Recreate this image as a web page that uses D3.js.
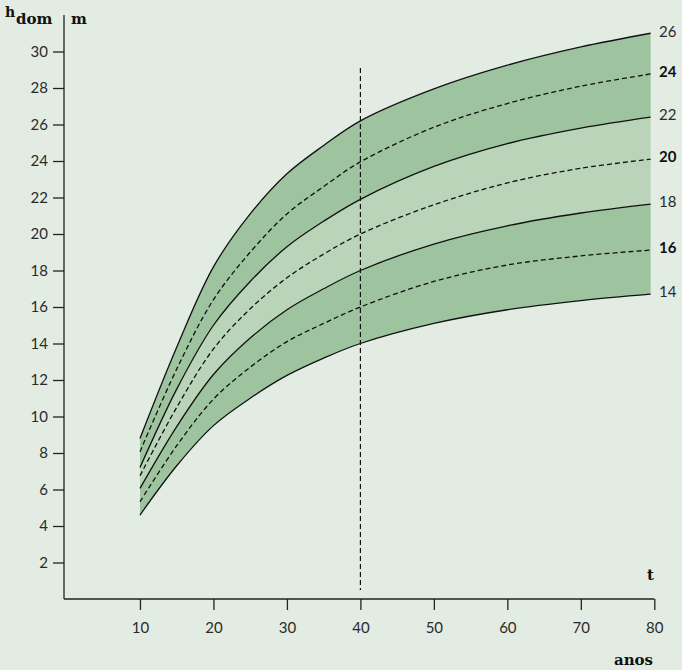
<!DOCTYPE html>
<html>
<head>
<meta charset="utf-8">
<script src="https://cdn.jsdelivr.net/npm/d3@7"></script>
<style>
  body { margin: 0; background: #e3ece3; }
  svg { display: block; }
  .axis text { font-family: Lato, sans-serif; font-size: 15px; fill: #2a2a2a; }
  .axis line { stroke: #222; stroke-width: 1.3; }
  .lbl { font-family: "DejaVu Serif", serif; font-weight: bold; fill: #111; }
  .endlbl { font-family: Lato, sans-serif; font-size: 15px; fill: #2a2a2a; }
</style>
</head>
<body>
<script>
// ages (years) and dominant height (m) for each site-index curve
var ages = [10, 15, 20, 25, 30, 35, 40, 50, 60, 70, 79.5];
var h14 = [4.6, 7.3, 9.5, 11.0, 12.25, 13.2, 14.0, 15.1, 15.85, 16.35, 16.7];
var h16 = [5.33, 8.4, 10.95, 12.7, 14.1, 15.1, 16.0, 17.4, 18.3, 18.8, 19.12];
var h18 = [6.06, 9.45, 12.3, 14.3, 15.85, 17.0, 18.0, 19.45, 20.45, 21.15, 21.64];
var h20 = [6.75, 10.5, 13.7, 15.9, 17.6, 18.9, 20.0, 21.6, 22.8, 23.6, 24.1];
var h22 = [7.2, 11.5, 15.0, 17.4, 19.3, 20.7, 21.9, 23.7, 24.95, 25.8, 26.4];
var h24 = [8.07, 12.6, 16.4, 19.0, 21.1, 22.6, 23.95, 25.85, 27.15, 28.1, 28.77];
var h26 = [8.8, 13.8, 18.2, 21.1, 23.3, 24.85, 26.2, 27.95, 29.25, 30.25, 31.0];

var siLabels = ["14", "16", "18", "20", "22", "24", "26"];
var xTicks = [10, 20, 30, 40, 50, 60, 70, 80];
var yTicks = [2, 4, 6, 8, 10, 12, 14, 16, 18, 20, 22, 24, 26, 28, 30];
var refAge = 40;

var width = 682, height = 670;
var axisX = 64, axisY = 599;

var svg = d3.select("body").append("svg")
    .attr("width", width)
    .attr("height", height);

var x = d3.scaleLinear().domain([0, 80]).range([66.5, 654.3]);
var y = d3.scaleLinear().domain([0, 32]).range([axisY, 15]);

var curves = [
  {h: h14, label: siLabels[0], dashed: false},
  {h: h16, label: siLabels[1], dashed: true},
  {h: h18, label: siLabels[2], dashed: false},
  {h: h20, label: siLabels[3], dashed: true},
  {h: h22, label: siLabels[4], dashed: false},
  {h: h24, label: siLabels[5], dashed: true},
  {h: h26, label: siLabels[6], dashed: false}
];

// shaded bands between solid curves
var bands = [
  {lo: h14, hi: h18, color: "#9dc49e"},
  {lo: h18, hi: h22, color: "#b9d4b8"},
  {lo: h22, hi: h26, color: "#9dc49e"}
];

var smooth = d3.curveCatmullRom.alpha(0.5);

var area = d3.area()
    .x(function(d, i) { return x(ages[i]); })
    .y0(function(d) { return y(d[0]); })
    .y1(function(d) { return y(d[1]); })
    .curve(smooth);

bands.forEach(function(b) {
  var pts = b.lo.map(function(v, i) { return [v, b.hi[i]]; });
  svg.append("path")
      .attr("d", area(pts))
      .attr("fill", b.color)
      .attr("stroke", "none");
});

var line = d3.line()
    .x(function(d, i) { return x(ages[i]); })
    .y(function(d) { return y(d); })
    .curve(smooth);

curves.forEach(function(c) {
  svg.append("path")
      .attr("d", line(c.h))
      .attr("fill", "none")
      .attr("stroke", "#111")
      .attr("stroke-width", 1.3)
      .attr("stroke-dasharray", c.dashed ? "5,3" : null);

  svg.append("text")
      .attr("class", "endlbl")
      .attr("x", 659)
      .attr("y", y(c.h[c.h.length - 1]) - 2)
      .attr("dy", "0.35em")
      .style("font-weight", c.dashed ? "bold" : "normal")
      .style("fill", c.dashed ? "#111" : "#2a2a2a")
      .text(c.label);
});

// reference age line
svg.append("line")
    .attr("x1", x(refAge)).attr("x2", x(refAge))
    .attr("y1", y(29.1)).attr("y2", y(0.5))
    .attr("stroke", "#111")
    .attr("stroke-width", 1.2)
    .attr("stroke-dasharray", "5,3");

// x axis
var gx = svg.append("g")
    .attr("class", "axis")
    .attr("transform", "translate(0," + axisY + ")")
    .call(d3.axisBottom(x).tickValues(xTicks).tickSize(11).tickSizeOuter(0).tickPadding(12));
gx.select(".domain").remove();
gx.append("line")
    .attr("x1", axisX).attr("x2", x(80))
    .attr("stroke", "#222").attr("stroke-width", 1.3);

// y axis
var gy = svg.append("g")
    .attr("class", "axis")
    .attr("transform", "translate(" + axisX + ",0)")
    .call(d3.axisLeft(y).tickValues(yTicks).tickSize(11).tickSizeOuter(0).tickPadding(5));
gy.select(".domain").remove();
gy.append("line")
    .attr("y1", 15).attr("y2", axisY)
    .attr("stroke", "#222").attr("stroke-width", 1.3);

// axis titles
svg.append("text").attr("class", "lbl")
    .attr("x", 5).attr("y", 17)
    .style("font-size", "14px")
    .text("h");
svg.append("text").attr("class", "lbl")
    .attr("x", 16).attr("y", 24)
    .style("font-size", "15px")
    .text("dom");
svg.append("text").attr("class", "lbl")
    .attr("x", 71).attr("y", 24)
    .style("font-size", "15px")
    .text("m");
svg.append("text").attr("class", "lbl")
    .attr("x", 654).attr("y", 580)
    .attr("text-anchor", "end")
    .style("font-size", "15px")
    .text("t");
svg.append("text").attr("class", "lbl")
    .attr("x", 653).attr("y", 665)
    .attr("text-anchor", "end")
    .style("font-size", "15px")
    .text("anos");
</script>
</body>
</html>
